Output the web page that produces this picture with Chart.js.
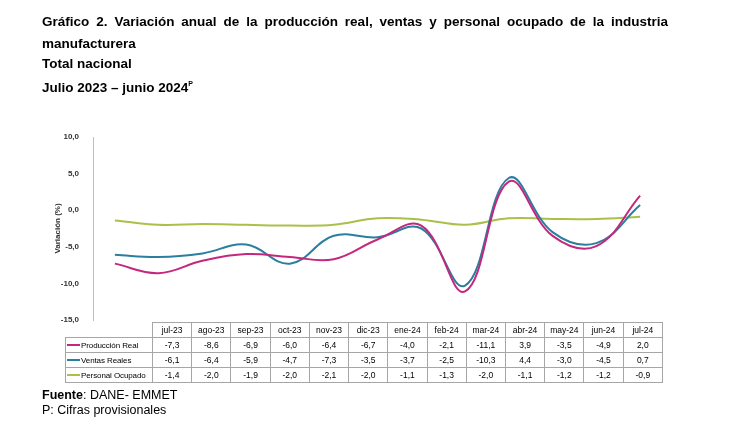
<!DOCTYPE html>
<html>
<head>
<meta charset="utf-8">
<script src="https://cdn.jsdelivr.net/npm/chart.js@4.4.0/dist/chart.umd.min.js"></script>
<style>
    body { margin: 0; background: #fff; font-family: "Liberation Sans", Arial, sans-serif; color: #000; }
    #wrap { position: relative; width: 737px; height: 422px; overflow: hidden; }
    #chartBox { position: absolute; left: 0; top: 0; width: 737px; height: 422px; }
    .title { position: absolute; left: 42px; width: 626px; font-weight: bold; font-size: 13.5px; line-height: 20px; }
    .title.just { text-align: justify; text-align-last: justify; }
    .title sup { font-size: 7px; }
    #dataTable { position: absolute; left: 65px; top: 322px; border-collapse: collapse; table-layout: fixed; width: 598px; font-size: 8.5px; }
    #dataTable td { border: 1px solid #a6a6a6; height: 14px; padding: 0; text-align: center; white-space: nowrap; overflow: hidden; }
    #dataTable td.lab { text-align: left; padding-left: 1px; font-size: 8px; letter-spacing: -0.1px; }
    #dataTable td.blank { border-top: none; border-left: none; }
    .key { display: inline-block; width: 13px; height: 2px; vertical-align: middle; margin-right: 1px; }
    .foot { position: absolute; left: 42px; font-size: 12.5px; }
</style>
</head>
<body>
<div id="wrap">
    <div id="chartBox"><canvas id="lineChart"></canvas></div>
    <div class="title just" style="top:12px;">Gráfico 2. Variación anual de la producción real, ventas y personal ocupado de la industria</div>
    <div class="title" style="top:34px;">manufacturera</div>
    <div class="title" style="top:54px;">Total nacional</div>
    <div class="title" style="top:74px;">Julio 2023 – junio 2024<sup>P</sup></div>
    <table id="dataTable"></table>
    <div class="foot" style="top:388px;"><b>Fuente</b>: DANE- EMMET</div>
    <div class="foot" style="top:403px;">P: Cifras provisionales</div>
</div>
<script>
const months = ['jul-23', 'ago-23', 'sep-23', 'oct-23', 'nov-23', 'dic-23', 'ene-24', 'feb-24', 'mar-24', 'abr-24', 'may-24', 'jun-24', 'jul-24'];
const produccionReal = [-7.3, -8.6, -6.9, -6.0, -6.4, -6.7, -4.0, -2.1, -11.1, 3.9, -3.5, -4.9, 2.0];
const ventasReales = [-6.1, -6.4, -5.9, -4.7, -7.3, -3.5, -3.7, -2.5, -10.3, 4.4, -3.0, -4.5, 0.7];
const personalOcupado = [-1.4, -2.0, -1.9, -2.0, -2.1, -2.0, -1.1, -1.3, -2.0, -1.1, -1.2, -1.2, -0.9];
const seriesNames = ['Producción Real', 'Ventas Reales', 'Personal Ocupado'];
const yTicks = [10, 5, 0, -5, -10, -15];

const colors = ['#c4287e', '#2a7f9e', '#a9c04a'];
const fmt = v => v.toFixed(1).replace('.', ',');

// Build data table under the chart
function buildTable() {
    const table = document.getElementById('dataTable');
    let html = '<colgroup><col style="width:87px">' + months.map(() => '<col>').join('') + '</colgroup>';
    html += '<tr><td class="blank"></td>' + months.map(m => `<td>${m}</td>`).join('') + '</tr>';
    [produccionReal, ventasReales, personalOcupado].forEach((values, i) => {
        html += `<tr><td class="lab"><span class="key" style="background:${colors[i]}"></span>${seriesNames[i]}</td>`;
        html += values.map(v => `<td>${fmt(v)}</td>`).join('') + '</tr>';
    });
    table.innerHTML = html;
}

function buildChart() {
    const ctx = document.getElementById('lineChart').getContext('2d');
    const series = [produccionReal, ventasReales, personalOcupado];
    new Chart(ctx, {
        type: 'line',
        data: {
            labels: months,
            datasets: series.map((values, i) => ({
                label: seriesNames[i],
                data: values,
                borderColor: colors[i],
                borderWidth: 2,
                pointRadius: 0,
                tension: 0.4,
                fill: false
            }))
        },
        options: {
            responsive: true,
            maintainAspectRatio: false,
            animation: false,
            layout: { padding: { left: 53, right: 75, top: 137, bottom: 102 } },
            scales: {
                x: {
                    display: false,
                    offset: true
                },
                y: {
                    min: Math.min(...yTicks),
                    max: Math.max(...yTicks),
                    afterFit: scale => { scale.width = 40; },
                    afterBuildTicks: scale => { scale.ticks = yTicks.map(v => ({ value: v })); },
                    grid: { display: false },
                    border: { display: true, color: '#bfbfbf', width: 1 },
                    ticks: {
                        padding: 6,
                        color: '#333',
                        font: { family: 'Liberation Sans', size: 8, weight: 'bold' },
                        callback: v => fmt(v)
                    },
                    title: {
                        display: true,
                        text: 'Variación (%)',
                        color: '#333',
                        padding: 0,
                        font: { family: 'Liberation Sans', size: 8, weight: 'bold' }
                    }
                }
            },
            plugins: {
                legend: { display: false },
                tooltip: { enabled: false }
            }
        }
    });
}

buildTable();
buildChart();
</script>
</body>
</html>
